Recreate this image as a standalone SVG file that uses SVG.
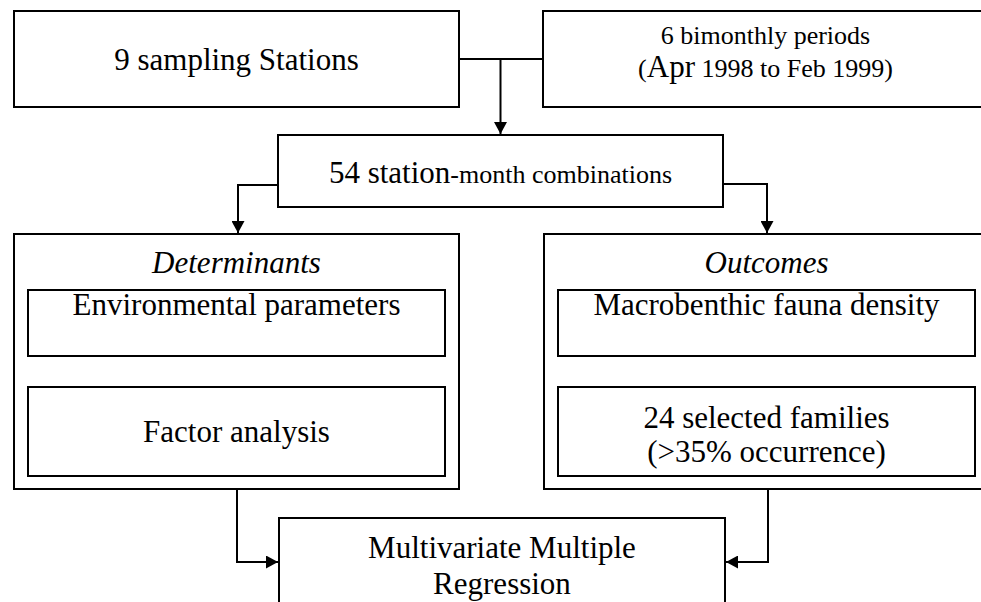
<svg xmlns="http://www.w3.org/2000/svg" width="981" height="602" viewBox="0 0 981 602">
<defs>
<style>
.box{fill:#fff;stroke:#000;stroke-width:2}
.t{font-family:"Liberation Serif","Times New Roman",serif;font-size:31px;fill:#000;text-anchor:middle}
.s{font-size:26px}
.i{font-style:italic}
.c{fill:none;stroke:#000;stroke-width:2}
</style>
<marker id="ah" markerWidth="13" markerHeight="13" refX="12" refY="6.5" orient="auto" markerUnits="userSpaceOnUse">
<path d="M0,0 L12,6.5 L0,13 z" fill="#000"/>
</marker>
</defs>
<rect width="981" height="602" fill="#fff"/>
<g id="connectors">
<path class="c" d="M459,59 H543"/>
<path class="c" d="M500.5,59 V134" marker-end="url(#ah)"/>
<path class="c" d="M278,185 H238 V233" marker-end="url(#ah)"/>
<path class="c" d="M723,184 H767 V233" marker-end="url(#ah)"/>
<path class="c" d="M237,356 V386" marker-end="url(#ah)"/>
<path class="c" d="M767,355 V386" marker-end="url(#ah)"/>
<path class="c" d="M237,476 V562 H278" marker-end="url(#ah)"/>
<path class="c" d="M768,476 V562 H726" marker-end="url(#ah)"/>
</g>
<g id="stations">
<rect class="box" x="14" y="11" width="445" height="96"/>
<text class="t" x="236.5" y="70">9 sampling Stations</text>
</g>
<g id="periods">
<rect class="box" x="543" y="11" width="445" height="96"/>
<text class="t s" x="765.5" y="44">6 bimonthly periods</text>
<text class="t s" x="765.5" y="77">(<tspan font-size="31px">Apr</tspan> 1998 to Feb 1999)</text>
</g>
<g id="combinations">
<rect class="box" x="278" y="135" width="445" height="72"/>
<text class="t" x="500.5" y="183">54 station<tspan font-size="26px">-month combinations</tspan></text>
</g>
<g id="determinants">
<rect class="box" x="14" y="234" width="445" height="255"/>
<text class="t i" x="236.5" y="273">Determinants</text>
<g id="environmental">
<rect class="box" x="28" y="290" width="417" height="66"/>
<text class="t" x="236.5" y="315">Environmental parameters</text>
</g>
<g id="factor">
<rect class="box" x="28" y="387" width="417" height="89"/>
<text class="t" x="236.5" y="442">Factor analysis</text>
</g>
</g>
<g id="outcomes">
<rect class="box" x="544" y="234" width="445" height="255"/>
<text class="t i" x="766.5" y="273">Outcomes</text>
<g id="macrobenthic">
<rect class="box" x="558" y="290" width="417" height="66"/>
<text class="t" x="766.5" y="315">Macrobenthic fauna density</text>
</g>
<g id="families">
<rect class="box" x="558" y="387" width="417" height="89"/>
<text class="t" x="766.5" y="428">24 selected families</text>
<text class="t" x="766.5" y="462">(&gt;35% occurrence)</text>
</g>
</g>
<g id="regression">
<rect class="box" x="279" y="518" width="446" height="110"/>
<text class="t" x="502" y="558">Multivariate Multiple</text>
<text class="t" x="502" y="594">Regression</text>
</g>
</svg>
